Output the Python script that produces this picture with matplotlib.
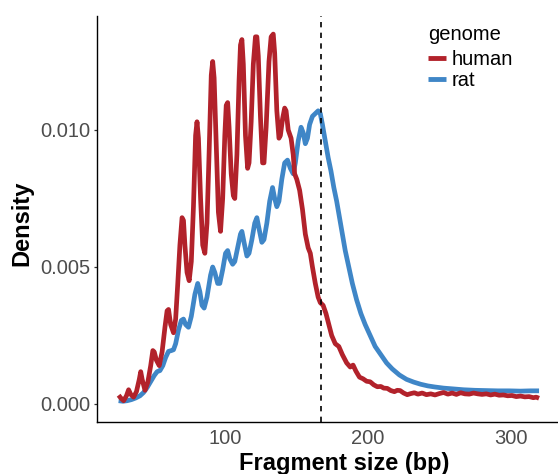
import matplotlib
matplotlib.use('Agg')
import matplotlib.pyplot as plt

plt.rcParams['font.family'] = ['Liberation Sans', 'DejaVu Sans']

RED = '#B2222B'
BLUE = '#3F86C7'

# fragment size (bp) / density
human_bp = [25, 26.5, 28.5, 30.5, 32, 33.5, 35.5, 37.5, 39.5, 40.5, 41.5, 43.5, 45.5, 47.5, 49, 50,
            51.5, 53.5, 55.5, 57.5, 59, 60, 61.5, 63.5, 65, 66.5, 68, 69.5, 70.5, 71.5, 73, 74.5,
            76, 77.5, 79, 80, 81, 82.5, 84, 85.5, 87, 88.5, 90, 91, 92, 93.5, 95, 96.5,
            98, 99.5, 100.5, 101.5, 102.5, 104, 105.5, 106.5, 108, 109.5, 110.5, 111.5, 112.5, 114,
            115.5, 116.5, 118, 119.5, 121, 122, 123, 124.5, 126, 127, 128.5, 130.5, 132, 133.5,
            134.5, 136, 137.5, 138.5, 140, 141.5, 142.5, 144, 146, 147.5, 148.5, 150, 152, 154,
            156, 158, 159.5, 161, 163, 165, 166.5, 168.5, 170.5, 172.5, 174.5, 177, 179.5, 182,
            185, 187.5, 189.5, 191.5, 194, 196.5, 199, 201.5, 204, 206.5, 209, 211, 213.5, 216,
            218.5, 220.5, 222.5, 225, 227.5, 230, 232.5, 235, 238, 241, 244, 247, 250, 253,
            256, 259, 262, 265, 268, 271, 274, 277, 280, 283, 286, 289, 292, 295, 298, 301,
            304, 307, 310, 313, 316, 318, 320]
human_density = [0.00032, 0.00022, 0.00012, 0.0003, 0.00052, 0.00035, 0.00025, 0.00045, 0.0009, 0.00118,
                 0.0009, 0.0005, 0.0008, 0.0014, 0.00195, 0.0019, 0.0016, 0.0014, 0.0019, 0.0028,
                 0.0034, 0.00345, 0.0029, 0.0026, 0.0031, 0.0044, 0.0058, 0.0068, 0.0067, 0.0058,
                 0.0048, 0.0045, 0.0052, 0.0072, 0.0098, 0.0103, 0.0097, 0.0075, 0.0058, 0.0055,
                 0.0066, 0.0092, 0.0120, 0.0125, 0.0119, 0.0094, 0.0070, 0.0063, 0.0075, 0.0098,
                 0.0109, 0.0110, 0.0101, 0.0084, 0.0076, 0.0075, 0.0091, 0.0118, 0.0131, 0.0133,
                 0.0124, 0.0098, 0.0086, 0.0088, 0.0103, 0.0124, 0.0134, 0.0134, 0.0127, 0.0105,
                 0.0088, 0.0088, 0.0101, 0.0125, 0.0134, 0.0135, 0.0128, 0.0107, 0.0097, 0.0098,
                 0.0104, 0.0108, 0.0107, 0.0100, 0.0097, 0.0091, 0.0084, 0.0082, 0.0078, 0.0071,
                 0.0062, 0.0057, 0.0055, 0.0050, 0.0044, 0.0039, 0.0037, 0.0036, 0.0033, 0.0029,
                 0.0025, 0.0022, 0.0021, 0.0018, 0.0015, 0.00135, 0.00142, 0.0012, 0.00098, 0.00092,
                 0.00083, 0.00081, 0.0007, 0.00063, 0.00064, 0.00058, 0.00057, 0.00049, 0.00045, 0.0005,
                 0.00049, 0.0004, 0.00034, 0.00038, 0.00041, 0.00036, 0.0004, 0.00034, 0.00037, 0.00033,
                 0.00038, 0.00042, 0.00036, 0.0004, 0.00035, 0.00041, 0.00037, 0.00036, 0.0004, 0.00037,
                 0.00035, 0.00037, 0.00033, 0.00036, 0.00032, 0.00033, 0.0003, 0.00031, 0.00027, 0.00029,
                 0.00026, 0.00027, 0.00023, 0.00025, 0.00021]

rat_bp = [25, 28, 31, 34, 37, 40, 42.5, 45, 47.5, 50, 52, 54, 56, 58, 60, 62, 63.5, 65, 67, 69,
          70.5, 72, 74, 76, 78.5, 80.5, 82, 83.5, 85, 87, 89.5, 91, 92.5, 94.5, 96, 98, 100, 101.5,
          103, 105, 106.5, 108.5, 110.5, 111.5, 113, 115, 116.5, 118.5, 120.5, 122, 123.5, 125.5,
          127, 129, 131, 133, 134.5, 136, 137.5, 139.5, 141.5, 143.5, 145.5, 147.5, 149, 151, 153,
          154.5, 156, 157.5, 159, 161, 163, 165, 166.5, 168, 170, 172, 174, 176, 178, 180, 182,
          184, 186.5, 189, 192, 195, 198, 201.5, 205, 209, 213, 217, 222, 227, 232, 237, 242, 247,
          253, 260, 267, 275, 283, 291, 299, 307, 314, 320]
rat_density = [0.00012, 0.0001, 0.00012, 0.00016, 0.00022, 0.0003, 0.00042, 0.0006, 0.00082, 0.00104,
               0.00118, 0.00122, 0.0014, 0.0017, 0.00192, 0.00195, 0.00198, 0.0022, 0.0027, 0.00305,
               0.0031, 0.0029, 0.0028, 0.0032, 0.0040, 0.0044, 0.0041, 0.0036, 0.0035, 0.0039,
               0.0047, 0.0050, 0.0048, 0.0044, 0.0044, 0.0049, 0.0055, 0.0056, 0.0053, 0.0051,
               0.0052, 0.0057, 0.0062, 0.0063, 0.0059, 0.0054, 0.0055, 0.0060, 0.0066, 0.0068,
               0.0064, 0.0059, 0.0060, 0.0066, 0.0074, 0.0079, 0.0075, 0.0072, 0.0074, 0.0082,
               0.0088, 0.0089, 0.0086, 0.0084, 0.0088, 0.0096, 0.0101, 0.0099, 0.0095, 0.0097,
               0.0102, 0.0105, 0.0106, 0.0107, 0.0106, 0.0102, 0.0096, 0.0090, 0.0085, 0.0079,
               0.0074, 0.0068, 0.0062, 0.0056, 0.0050, 0.0044, 0.0038, 0.0033, 0.0029, 0.0025,
               0.0021, 0.0018, 0.0015, 0.00128, 0.00106, 0.0009, 0.0008, 0.00072, 0.00066, 0.00062,
               0.00058, 0.00055, 0.00052, 0.0005, 0.00049, 0.00048, 0.00048, 0.00047, 0.00048, 0.00048]

genomes = ['human', 'rat']
nucleosome_bp = 167
x_ticks = [100, 200, 300]
y_ticks = [0.0, 0.005, 0.010]
y_tick_labels = ['0.000', '0.005', '0.010']

W, H = 558, 474
fig = plt.figure(figsize=(W / 100, H / 100), dpi=100)
# panel: left spine at x=97px, bottom at y=421.7px, top at 16px
ax = fig.add_axes([97 / W, (H - 421.7) / H, 1 - 97 / W, (421.7 - 16) / H])

ax.plot(human_bp, human_density, color=RED, lw=3.4, solid_joinstyle='round',
        solid_capstyle='butt', label=genomes[0], zorder=3)
ax.plot(rat_bp, rat_density, color=BLUE, lw=3.4, solid_joinstyle='round',
        solid_capstyle='butt', label=genomes[1], zorder=2)
ax.axvline(nucleosome_bp, color='black', lw=1.2, dashes=(3.2, 3.2), zorder=4)

ax.set_xlim(9.82, 333.3)
ax.set_ylim(-0.000646, 0.01416)

for s in ['top', 'right']:
    ax.spines[s].set_visible(False)
for s in ['left', 'bottom']:
    ax.spines[s].set_linewidth(1.0)
    ax.spines[s].set_color('black')

ax.set_xticks(x_ticks)
ax.set_xticklabels([str(t) for t in x_ticks])
ax.set_yticks(y_ticks)
ax.set_yticklabels(y_tick_labels)
ax.tick_params(axis='x', length=0, pad=5.5, labelsize=14.5, labelcolor='#4D4D4D')
ax.tick_params(axis='y', length=2.5, width=0.9, color='#333333', pad=2.2,
               labelsize=14.5, labelcolor='#4D4D4D')

ax.set_xlabel('Fragment size (bp)', fontsize=17, fontweight='bold', color='black')
ax.set_ylabel('Density', fontsize=17, fontweight='bold', color='black')
ax.xaxis.set_label_coords(0.536, -0.074)
ax.yaxis.set_label_coords(-0.137, 0.49)

leg = ax.legend(title='genome', loc='upper left', bbox_to_anchor=(428 / W, 1 - 25 / H),
                bbox_transform=fig.transFigure, frameon=False, fontsize=14.5,
                title_fontsize=14.5, alignment='left', handlelength=0.9,
                handletextpad=0.25, labelspacing=0.1, borderpad=0, borderaxespad=0)
leg._legend_box.sep = 4.0  # a bit more room under the title
for line in leg.get_lines():
    line.set_linewidth(3.5)

fig.savefig('out.png', dpi=100)
